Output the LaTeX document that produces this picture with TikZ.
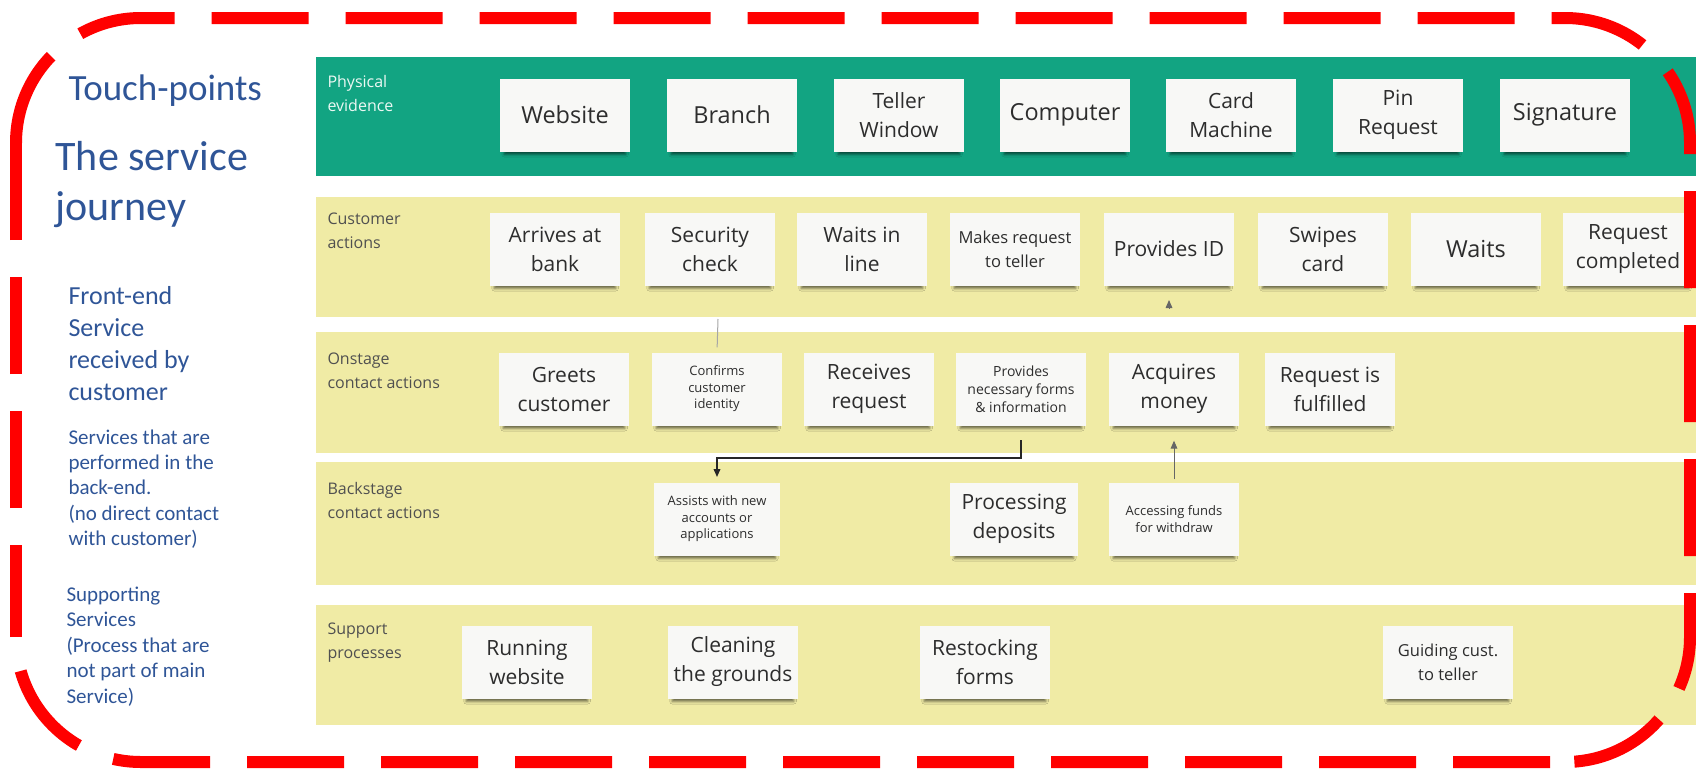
\documentclass[tikz,border=0pt]{standalone}
\usepackage{fontspec}
\setmainfont{Open Sans}
\newfontfamily\sidefont{Carlito}
\usetikzlibrary{arrows.meta,shadows.blur}

\definecolor{evgreen}{RGB}{18,164,130}
\definecolor{laneyellow}{RGB}{240,235,165}
\definecolor{notewhite}{RGB}{248,248,246}
\definecolor{notetext}{RGB}{45,45,45}
\definecolor{borderred}{RGB}{255,0,0}
\definecolor{sideblue}{RGB}{47,85,151}
\definecolor{labelgray}{RGB}{80,80,80}
\definecolor{labelwhite}{RGB}{235,248,243}

\newcommand{\fs}[2]{\fontsize{#1}{#2}\selectfont}

\tikzset{every picture/.style={line width=0.75pt}}
\tikzset{
  note/.style={fill=notewhite, text=notetext, align=center, inner sep=0pt,
    minimum width=98pt, minimum height=54.75pt,
    blur shadow={shadow xshift=0pt, shadow yshift=-4.5pt, shadow scale=0.93,
      shadow opacity=55, shadow blur radius=2pt}},
  notebig/.style={note, font=\fs{17.6pt}{21pt}},
  notemid/.style={note, font=\fs{15.75pt}{21.75pt}},
  notesmall/.style={note, font=\fs{12.4pt}{18pt}},
  notetiny/.style={note, font=\fs{9.75pt}{12.4pt}},
  rowlabel/.style={anchor=north west, inner sep=0pt, align=left, font=\fs{12pt}{18pt}, text=labelgray},
  sidetxt/.style={anchor=north west, inner sep=0pt, align=left, text=sideblue},
  redline/.style={draw=borderred, line width=9pt, dash pattern=on 72.75pt off 27.75pt},
  softlink/.style={draw=black!35, line width=0.75pt},
  darklink/.style={draw=black!85, line width=1.1pt, -{Triangle[length=6pt,width=5pt]}},
  graylink/.style={draw=black!60, line width=0.75pt, -{Triangle[length=6pt,width=5pt]}}
}

\begin{document}
\begin{tikzpicture}[x=0.75pt,y=0.75pt,yscale=-1,xscale=1]
\useasboundingbox (0,0) rectangle (1696,768);

%Shape: Rectangle lanes
\fill [evgreen] (316,57) rectangle (1696,176);
\fill [laneyellow] (316,197) rectangle (1696,317);
\fill [laneyellow] (316,332) rectangle (1696,453);
\fill [laneyellow] (316,462) rectangle (1696,585);
\fill [laneyellow] (316,605) rectangle (1696,725);

% Text Node lane labels
\node [rowlabel, text=labelwhite] (lblphys) at (327,75) {Physical\\evidence};
\node [rowlabel] (lblcust) at (327,212) {Customer\\actions};
\node [rowlabel] (lblon) at (327,352) {Onstage\\contact actions};
\node [rowlabel] (lblback) at (327,482) {Backstage\\contact actions};
\node [rowlabel] (lblsupp) at (327,622) {Support\\processes};

% Text Node physical evidence
\node [notebig] (web) at (565,115) {Website};
\node [notebig] (branch) at (732,115) {Branch};
\node [notemid] (teller) at (899,115) {Teller\\Window};
\node [notebig] (comp) at (1065,115) {Computer};
\node [notemid] (cardm) at (1231,115) {Card\\Machine};
\node [notemid] (pinreq) at (1398,115) {Pin\\Request};
\node [notebig] (sign) at (1565,115) {Signature};

% Text Node customer actions
\node [notemid] (arrive) at (555,249) {Arrives at\\bank};
\node [notemid] (secur) at (710,249) {Security\\check};
\node [notemid] (waitl) at (862,249) {Waits in\\line};
\node [notesmall] (makereq) at (1015,249) {Makes request\\to teller};
\node [notemid] (provid) at (1169,249) {Provides ID};
\node [notemid] (swipe) at (1323,249) {Swipes\\card};
\node [notebig] (waits) at (1476,249) {Waits};
\node [notemid] (reqdone) at (1628,249) {Request\\completed};

% Text Node onstage
\node [notemid] (greet) at (564,389) {Greets\\customer};
\node [notetiny] (confirm) at (717,389) {Confirms\\customer\\identity};
\node [notemid] (receive) at (869,389) {Receives\\request};
\node [notetiny, font=\fs{10.5pt}{13.5pt}] (forms) at (1021,389) {Provides\\necessary forms\\\& information};
\node [notemid] (acquire) at (1174,389) {Acquires\\money};
\node [notemid] (fulfil) at (1330,389) {Request is\\fulfilled};

% Text Node backstage
\node [notetiny, minimum width=94.5pt] (assist) at (717,519) {Assists with new\\accounts or\\applications};
\node [notemid, minimum width=96pt] (deposit) at (1014,519) {Processing\\deposits};
\node [notetiny] (access) at (1174,519) {Accessing funds\\for withdraw};

% Text Node support
\node [notemid] (runweb) at (527,662) {Running\\website};
\node [notemid] (clean) at (733,662) {Cleaning\\the grounds};
\node [notemid] (restock) at (985,662) {Restocking\\forms};
\node [notesmall] (guide) at (1448,662) {Guiding cust.\\to teller};

%Straight Lines
\coordinate (secdrop) at (718,319);
\draw [softlink, shorten >=3.5pt] (secdrop) -- (confirm.north);
\coordinate (formsdrop) at (1021,440);
\draw [darklink, shorten >=3.75pt] (formsdrop) -- ++(0,18) -| (assist.north);
\draw [graylink, shorten >=11pt, shorten <=2pt] (access.north) -- (acquire.south);
\coordinate (idfoot) at (1169,308);
\draw [graylink, shorten >=10.5pt] (idfoot) -- (provid.south);

% Text Node left side
\node [sidetxt, font=\sidefont\fs{27.75pt}{33pt}] (touch) at (68,74) {Touch-points};
\node [sidetxt, font=\sidefont\fs{31.5pt}{37.5pt}] (journey) at (55,141) {The service\\journey};
\node [sidetxt, font=\sidefont\fs{19.5pt}{24pt}] (front) at (68,286) {Front-end\\Service\\received by\\customer};
\node [sidetxt, font=\sidefont\fs{15.75pt}{19pt}] (backend) at (68,429) {Services that are\\performed in the\\back-end.\\(no direct contact\\with customer)};
\node [sidetxt, font=\sidefont\fs{15.75pt}{19.2pt}] (support) at (66,586) {Supporting\\Services\\(Process that are\\not part of main\\Service)};

%Shape: Rounded Rectangle dashed border
\draw [redline, dash phase=0.75pt] (16,143) arc [start angle=180, end angle=270, radius=125] -- (1565,18) arc [start angle=270, end angle=360, radius=125];
\draw [redline, dash phase=64.5pt] (1690,143) -- (1690,637) arc [start angle=0, end angle=90, radius=125];
\draw [redline, dash phase=89.25pt] (1565,762) -- (141,762) arc [start angle=90, end angle=180, radius=125];
\draw [redline, dash phase=3.75pt] (16,637) -- (16,143);
\end{tikzpicture}
\end{document}
